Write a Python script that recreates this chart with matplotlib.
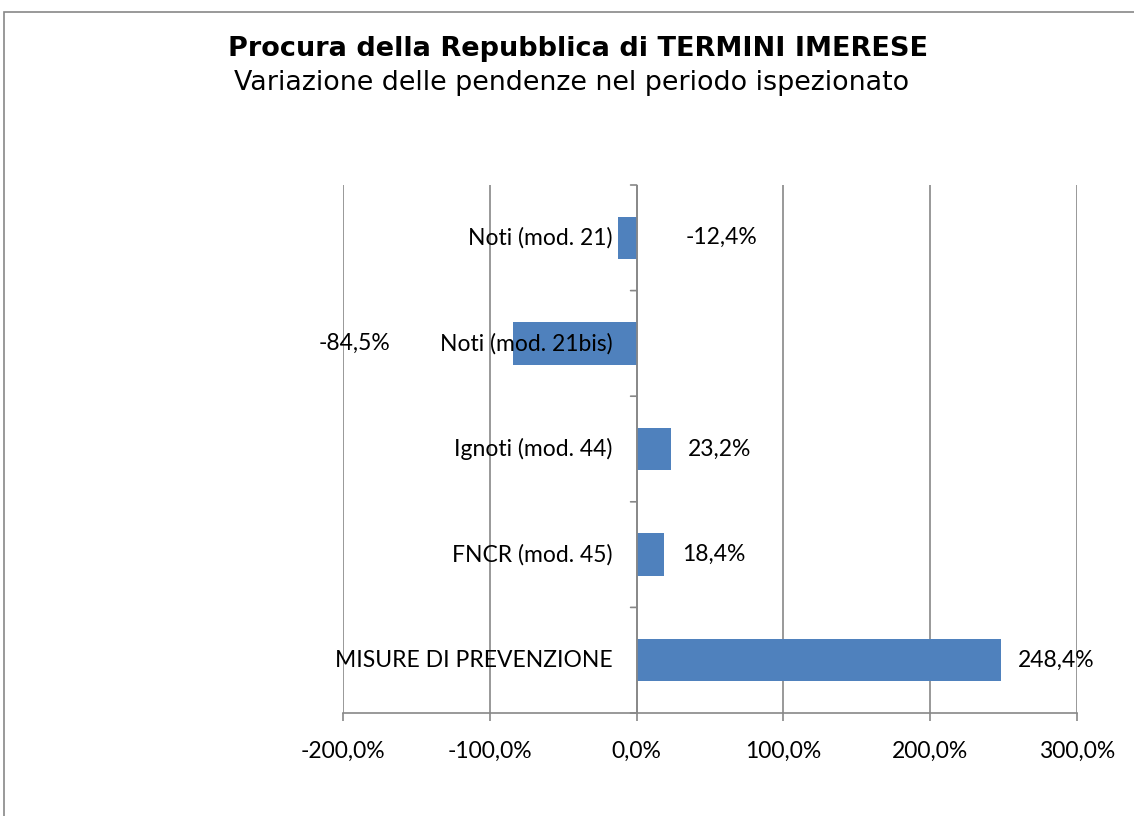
import numpy as np
from matplotlib import pyplot as plt
from matplotlib.patches import Rectangle
from matplotlib.ticker import FuncFormatter

# dati
categorie = ["Noti (mod. 21)", "Noti (mod. 21bis)", "Ignoti (mod. 44)",
             "FNCR (mod. 45)", "MISURE DI PREVENZIONE"]
variazioni = [-12.4, -84.5, 23.2, 18.4, 248.4]
etichette = ["-12,4%", "-84,5%", "23,2%", "18,4%", "248,4%"]

colore = "#4F81BD"
grigio = "#878787"
font_tick = ["Lato", "DejaVu Sans"]
fs = 16.5

fig = plt.figure(figsize=(11.34, 8.16), dpi=100)
ax = fig.add_axes([343 / 1134, 1 - 713 / 816, (1077 - 343) / 1134, (713 - 185) / 816])

# bordo del grafico
fig.patches.append(Rectangle((4 / 1134, -0.1), 1.1, 1 - 12 / 816 + 0.1,
                             transform=fig.transFigure, fill=False,
                             edgecolor=grigio, linewidth=1.2))

y = np.arange(len(categorie))
ax.barh(y, variazioni, height=0.4, color=colore, zorder=3)
ax.set_ylim(len(categorie) - 0.5, -0.5)
ax.set_xlim(-200, 300)
ax.set_xticks(np.arange(-200, 301, 100))
ax.xaxis.set_major_formatter(FuncFormatter(lambda v, p: f"{v:.1f}%".replace(".", ",")))
ax.grid(axis="x", color=grigio, linewidth=1.2, zorder=0)

for s in ["top", "right", "left"]:
    ax.spines[s].set_visible(False)
ax.spines["bottom"].set_color(grigio)
ax.spines["bottom"].set_linewidth(1.2)
ax.axvline(0, color=grigio, linewidth=1.2, zorder=4)

ax.tick_params(axis="x", direction="out", length=6, color=grigio, width=1.2,
               labelsize=fs, pad=14)
for t in ax.get_xticklabels():
    t.set_family(font_tick)

# tacche tra le categorie sull'asse dello zero
ax.set_yticks([])
for b in np.arange(-0.5, len(categorie), 1):
    ax.annotate("", xy=(0, b), xytext=(-6, 0), textcoords="offset pixels",
                arrowprops=dict(arrowstyle="-", color=grigio, lw=1.2,
                                shrinkA=0, shrinkB=0), annotation_clip=False)

# etichette delle categorie
for i, c in enumerate(categorie):
    ax.annotate(c, xy=(0, i), xytext=(-24, 0), textcoords="offset pixels",
                ha="right", va="center", fontsize=fs, family=font_tick, zorder=5)

# etichette dei valori
spostamenti = [(67, "left"), (-122, "right"), (17, "left"), (18, "left"), (17, "left")]
for i, (v, e) in enumerate(zip(variazioni, etichette)):
    dx, ha = spostamenti[i]
    ax.annotate(e, xy=(v, i), xytext=(dx, 0), textcoords="offset pixels",
                ha=ha, va="center", fontsize=fs, family=font_tick, zorder=5)

fig.text(578 / 1134, 1 - 49 / 816, "Procura della Repubblica di TERMINI IMERESE",
         ha="center", va="center", fontsize=19.5, fontweight="bold")
fig.text(572 / 1134, 1 - 83 / 816, "Variazione delle pendenze nel periodo ispezionato",
         ha="center", va="center", fontsize=19.4)

fig.savefig("out.png", dpi=100)
